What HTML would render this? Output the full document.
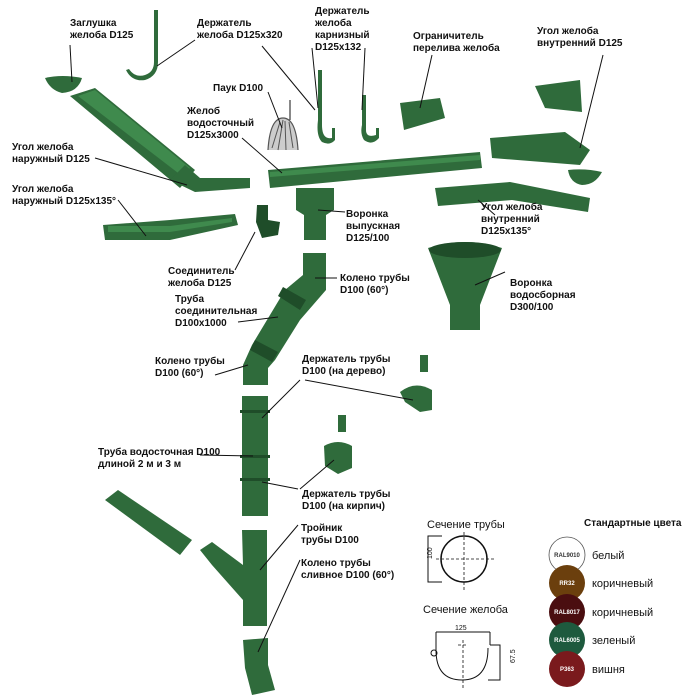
<!DOCTYPE html>
<html><head><meta charset="utf-8"><style>
body{margin:0;background:#fff}
svg{display:block}
text{font-family:"Liberation Sans",sans-serif;font-size:10px;font-weight:bold;fill:#111}
.n{font-weight:normal;font-size:11px}
.l{stroke:#111;stroke-width:1;fill:none}
.g{fill:#2f6b3b}
.gl{fill:#3f8a4d}
.gd{fill:#1f4d29}
</style></head><body>
<svg width="700" height="700" viewBox="0 0 700 700">
<!-- end cap -->
<path class="g" d="M45 78 Q62 74 82 78 Q78 92 62 93 Q50 90 45 78Z"/>
<!-- long diagonal gutter -->
<path class="g" d="M70 96 L95 88 L195 170 L180 188 Z"/>
<path class="gl" d="M78 96 L95 90 L190 168 L182 176 Z"/>
<!-- external corner -->
<path class="g" d="M170 180 L185 165 L200 178 L250 178 L250 188 L195 192 Z"/>
<!-- holder D125x320 -->
<path class="g" d="M154 10 L158 10 L158 62 Q158 76 145 80 Q132 82 126 70 L129 69 Q135 78 145 75 Q154 72 154 62Z"/>
<!-- spider -->
<path d="M268 150 Q270 118 283 118 Q296 118 298 150" fill="#ccc" stroke="#555" stroke-width="1.2"/>
<path d="M272 148 L280 122 M278 150 L283 120 M286 150 L285 121 M293 148 L289 122" stroke="#555" stroke-width="1"/>
<!-- long horizontal gutter -->
<path class="g" d="M268 170 L480 152 L482 168 L270 188 Z"/>
<path class="gl" d="M270 172 L480 155 L480 160 L270 177Z"/>
<!-- cornice holders -->
<path class="g" d="M318 70 L322 70 L322 125 Q322 140 332 138 L332 128 L335 128 L335 140 Q330 146 322 142 Q316 136 318 120Z"/>
<path class="g" d="M362 95 L366 95 L366 130 Q366 138 376 135 L376 128 L379 128 L379 138 Q372 146 364 140 Q360 134 362 125Z"/>
<!-- overflow limiter -->
<path class="g" d="M400 103 L440 98 L445 118 L404 130 Z"/>
<!-- internal corner top right -->
<path class="g" d="M535 86 L580 80 L582 112 L545 108 Z"/>
<path class="g" d="M490 138 L565 132 L590 150 L580 165 L492 158Z"/>
<path class="g" d="M568 170 Q585 168 602 172 Q595 185 582 185 Q570 183 568 170Z"/>
<!-- external 135 -->
<path class="g" d="M103 225 L170 220 L235 214 L238 225 L170 240 L105 240Z"/>
<path class="gl" d="M108 226 L170 226 L232 218 L232 222 L170 232 L108 232Z"/>
<!-- connector -->
<path class="gd" d="M257 205 L268 205 L268 220 L280 222 L278 235 L262 238 L256 222Z"/>
<!-- outlet funnel -->
<path class="g" d="M296 188 L334 188 L334 210 L326 215 L326 240 L304 240 L304 215 L296 210Z"/>
<!-- internal 135 -->
<path class="g" d="M435 188 L510 182 L590 198 L588 212 L512 200 L438 206Z"/>
<!-- big funnel -->
<path class="g" d="M428 248 Q465 236 502 248 L480 305 L480 330 L450 330 L450 305 Z"/>
<ellipse class="gd" cx="465" cy="250" rx="36" ry="8"/>
<!-- elbow pipe top -->
<path class="g" d="M303 253 L326 253 L326 290 L300 320 L275 360 L268 368 L268 385 L243 385 L243 365 L252 345 L285 290 L303 275Z"/>
<path class="gd" d="M283 287 L306 300 L300 310 L278 296Z"/>
<path class="gd" d="M255 340 L278 352 L272 362 L250 350Z"/>
<!-- vertical pipe -->
<rect class="g" x="242" y="396" width="26" height="120"/>
<rect class="gd" x="240" y="410" width="30" height="3"/>
<rect class="gd" x="240" y="455" width="30" height="3"/>
<rect class="gd" x="240" y="478" width="30" height="3"/>
<!-- pipe holders -->
<path class="g" d="M420 355 L428 355 L428 372 L420 372Z"/>
<path class="g" d="M400 392 Q415 380 432 390 L432 410 L420 412 L405 402Z"/>
<path class="g" d="M338 415 L346 415 L346 432 L338 432Z"/>
<path class="g" d="M324 446 Q338 438 352 446 L352 468 L338 474 L325 466Z"/>
<!-- left pipe -->
<path class="g" d="M105 500 L118 490 L192 540 L180 555Z"/>
<!-- tee -->
<path class="g" d="M242 530 L267 530 L267 626 L243 626 L243 600 L212 565 L200 550 L212 542 L243 565Z"/>
<!-- bottom elbow -->
<path class="g" d="M243 640 L268 638 L268 665 L275 690 L252 695 L245 668Z"/>

<!-- leader lines -->
<g class="l">
<path d="M70 45 L72 82"/>
<path d="M195 40 L157 66"/>
<path d="M262 46 L315 110"/>
<path d="M312 48 L318 108"/>
<path d="M365 48 L362 110"/>
<path d="M268 92 L282 128"/>
<path d="M242 138 L282 173"/>
<path d="M95 158 L187 185"/>
<path d="M118 200 L146 236"/>
<path d="M290 100 L290 120"/>
<path d="M432 55 L420 108"/>
<path d="M603 55 L580 148"/>
<path d="M345 212 L318 210"/>
<path d="M478 200 L495 215"/>
<path d="M505 272 L475 285"/>
<path d="M255 232 L235 270"/>
<path d="M337 278 L315 278"/>
<path d="M238 322 L278 317"/>
<path d="M215 375 L248 365"/>
<path d="M300 380 L262 418 M305 380 L413 400"/>
<path d="M200 455 L253 456"/>
<path d="M298 489 L262 482 M300 489 L334 460"/>
<path d="M298 525 L260 570"/>
<path d="M300 560 L258 652"/>
</g>

<!-- labels -->
<text x="70" y="26">Заглушка</text><text x="70" y="38">желоба D125</text>
<text x="197" y="26">Держатель</text><text x="197" y="38">желоба D125x320</text>
<text x="315" y="14">Держатель</text><text x="315" y="26">желоба</text><text x="315" y="38">карнизный</text><text x="315" y="50">D125x132</text>
<text x="413" y="39">Ограничитель</text><text x="413" y="51">перелива желоба</text>
<text x="537" y="34">Угол желоба</text><text x="537" y="46">внутренний D125</text>
<text x="213" y="91">Паук D100</text>
<text x="187" y="114">Желоб</text><text x="187" y="126">водосточный</text><text x="187" y="138">D125x3000</text>
<text x="12" y="150">Угол желоба</text><text x="12" y="162">наружный D125</text>
<text x="12" y="192">Угол желоба</text><text x="12" y="204">наружный D125x135°</text>
<text x="346" y="217">Воронка</text><text x="346" y="229">выпускная</text><text x="346" y="241">D125/100</text>
<text x="481" y="210">Угол желоба</text><text x="481" y="222">внутренний</text><text x="481" y="234">D125x135°</text>
<text x="168" y="274">Соединитель</text><text x="168" y="286">желоба D125</text>
<text x="340" y="281">Колено трубы</text><text x="340" y="293">D100 (60°)</text>
<text x="510" y="286">Воронка</text><text x="510" y="298">водосборная</text><text x="510" y="310">D300/100</text>
<text x="175" y="302">Труба</text><text x="175" y="314">соединительная</text><text x="175" y="326">D100x1000</text>
<text x="155" y="364">Колено трубы</text><text x="155" y="376">D100 (60°)</text>
<text x="302" y="362">Держатель трубы</text><text x="302" y="374">D100 (на дерево)</text>
<text x="98" y="455">Труба водосточная D100</text><text x="98" y="467">длиной 2 м и 3 м</text>
<text x="302" y="497">Держатель трубы</text><text x="302" y="509">D100 (на кирпич)</text>
<text x="301" y="531">Тройник</text><text x="301" y="543">трубы D100</text>
<text x="301" y="566">Колено трубы</text><text x="301" y="578">сливное D100 (60°)</text>

<!-- pipe section -->
<text class="n" x="427" y="528">Сечение трубы</text>
<circle cx="464" cy="559" r="23" fill="none" stroke="#111" stroke-width="1.5"/>
<path d="M436 559 L494 559 M464 532 L464 590" stroke="#111" stroke-width="0.8" stroke-dasharray="3,2"/>
<path d="M442 536 L428 536 L428 582 L442 582" class="l" stroke-width="0.6"/>
<text x="425" y="566" style="font-size:7px;font-weight:normal" transform="rotate(-90 425 559)">100</text>
<text class="n" x="423" y="613">Сечение желоба</text>
<text x="455" y="630" style="font-size:7px;font-weight:normal">125</text>
<path d="M436 632 L490 632 M436 632 L436 650 M490 632 L490 645" class="l" stroke-width="0.6"/>
<path d="M436 650 Q436 680 462 680 Q488 680 488 648" class="l" stroke-width="1.5"/>
<circle cx="434" cy="653" r="3" class="l" stroke-width="1.2"/>
<path d="M458 645 L468 645 M463 640 L463 690" stroke="#111" stroke-width="0.8" stroke-dasharray="3,2"/>
<path d="M490 645 L500 645 L500 680 L488 680" class="l" stroke-width="0.6"/>
<text x="508" y="670" style="font-size:7px;font-weight:normal" transform="rotate(-90 508 663)">67.5</text>

<!-- colors -->
<text x="584" y="526" style="font-size:10px">Стандартные цвета</text>
<circle cx="567" cy="555" r="18" fill="#fff" stroke="#555" stroke-width="0.8"/>
<circle cx="567" cy="583" r="18" fill="#6b3f0d"/>
<circle cx="567" cy="612" r="18" fill="#4a0e10"/>
<circle cx="567" cy="640" r="18" fill="#1e5a3e"/>
<circle cx="567" cy="669" r="18" fill="#7a1a1d"/>
<g style="font-size:6px" text-anchor="middle">
<text x="567" y="557" style="font-size:6px;fill:#333">RAL9010</text>
<text x="567" y="585" style="font-size:6px;fill:#fff">RR32</text>
<text x="567" y="614" style="font-size:6px;fill:#fff">RAL8017</text>
<text x="567" y="642" style="font-size:6px;fill:#fff">RAL6005</text>
<text x="567" y="671" style="font-size:6px;fill:#fff">P363</text>
</g>
<text class="n" x="592" y="559">белый</text>
<text class="n" x="592" y="587">коричневый</text>
<text class="n" x="592" y="616">коричневый</text>
<text class="n" x="592" y="644">зеленый</text>
<text class="n" x="592" y="673">вишня</text>
</svg>
</body></html>
